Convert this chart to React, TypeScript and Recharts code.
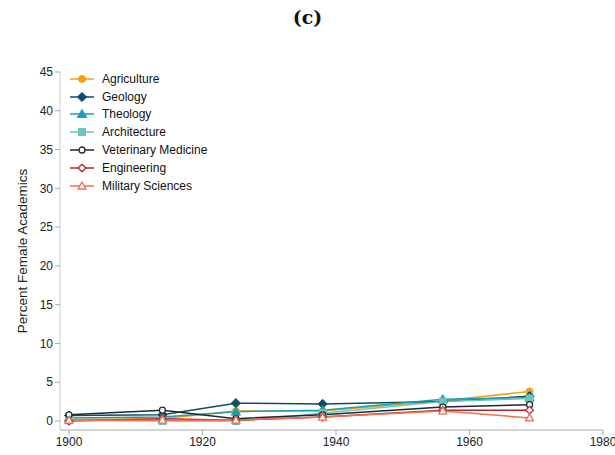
import { LineChart, Line, XAxis, YAxis } from "recharts";

const years = [1900, 1914, 1925, 1938, 1956, 1969];
const agriculture = [0.2, 0.3, 1.3, 1.3, 2.6, 3.8];
const geology = [0.7, 0.8, 2.3, 2.2, 2.5, 3.2];
const theology = [0.4, 0.5, 1.2, 1.4, 2.8, 3.0];
const architecture = [0.1, 0.0, 0.0, 1.0, 2.5, 2.9];
const veterinary = [0.8, 1.4, 0.3, 0.8, 1.8, 2.1];
const engineering = [0.0, 0.3, 0.1, 0.5, 1.4, 1.4];
const military = [0.1, 0.1, 0.1, 0.5, 1.3, 0.4];

const xTicks = [1900, 1920, 1940, 1960, 1980];
const yTicks = [0, 5, 10, 15, 20, 25, 30, 35, 40, 45];

type Shape = "circle" | "diamond" | "triangle" | "square";

const series: { key: string; name: string; color: string; shape: Shape; open: boolean; values: number[] }[] = [
  { key: "agriculture", name: "Agriculture", color: "#f2a30f", shape: "circle", open: false, values: agriculture },
  { key: "geology", name: "Geology", color: "#0f4c66", shape: "diamond", open: false, values: geology },
  { key: "theology", name: "Theology", color: "#1d9db5", shape: "triangle", open: false, values: theology },
  { key: "architecture", name: "Architecture", color: "#6cc6bd", shape: "square", open: false, values: architecture },
  { key: "veterinary", name: "Veterinary Medicine", color: "#1b2a35", shape: "circle", open: true, values: veterinary },
  { key: "engineering", name: "Engineering", color: "#b3282e", shape: "diamond", open: true, values: engineering },
  { key: "military", name: "Military Sciences", color: "#f26f4f", shape: "triangle", open: true, values: military },
];

const data = years.map((year, i) => {
  const row: Record<string, number> = { year };
  series.forEach((s) => {
    row[s.key] = s.values[i];
  });
  return row;
});

const font = "Liberation Sans, Arial, sans-serif";

function Marker({ cx, cy, shape, color, open }: { cx: number; cy: number; shape: Shape; color: string; open: boolean }) {
  const fill = open ? "#fff" : color;
  const sw = open ? 1.3 : 1;
  if (shape === "circle") {
    return <circle cx={cx} cy={cy} r={open ? 3 : 3.5} fill={fill} stroke={color} strokeWidth={sw} />;
  }
  if (shape === "diamond") {
    const d = open ? 3.8 : 4.6;
    return (
      <polygon
        points={`${cx},${cy - d} ${cx + d},${cy} ${cx},${cy + d} ${cx - d},${cy}`}
        fill={fill}
        stroke={color}
        strokeWidth={sw}
      />
    );
  }
  if (shape === "triangle") {
    const d = open ? 4 : 4.6;
    return (
      <polygon
        points={`${cx},${cy - d} ${cx + d},${cy + d * 0.75} ${cx - d},${cy + d * 0.75}`}
        fill={fill}
        stroke={color}
        strokeWidth={sw}
      />
    );
  }
  return <rect x={cx - 3.5} y={cy - 3.5} width={7} height={7} fill={fill} stroke={color} strokeWidth={sw} />;
}

function LegendBox() {
  return (
    <div style={{ position: "absolute", left: 69, top: 70, fontFamily: font, fontSize: 12, color: "#111" }}>
      {series.map((s) => (
        <div key={s.key} style={{ display: "flex", alignItems: "center", height: 17.8 }}>
          <svg width={26} height={14} style={{ marginRight: 7 }}>
            <line x1={1} y1={7} x2={25} y2={7} stroke={s.color} strokeWidth={1.5} />
            <Marker cx={13} cy={7} shape={s.shape} color={s.color} open={s.open} />
          </svg>
          <span>{s.name}</span>
        </div>
      ))}
    </div>
  );
}

const tickStyle = { fontSize: 12, fill: "#222", fontFamily: font };

export default function App() {
  return (
    <div style={{ position: "absolute", left: 0, top: 0, width: 615, height: 455, background: "#fff" }}>
      <div
        style={{
          position: "absolute",
          top: 6,
          width: 615,
          textAlign: "center",
          fontFamily: "DejaVu Serif, serif",
          fontWeight: "bold",
          fontSize: 19,
          color: "#111",
        }}
      >
        (c)
      </div>
      <LineChart width={615} height={455} data={data} margin={{ top: 72, right: 12, bottom: 0, left: 0 }}>
        <XAxis
          dataKey="year"
          type="number"
          domain={[1900, 1980]}
          ticks={xTicks}
          padding={{ left: 9, right: 0 }}
          height={25}
          tick={tickStyle}
          tickSize={5}
          tickLine={{ stroke: "#aaa" }}
          axisLine={{ stroke: "#aaa" }}
        />
        <YAxis
          type="number"
          domain={[0, 45]}
          ticks={yTicks}
          width={60}
          padding={{ top: 0, bottom: 9 }}
          tick={tickStyle}
          tickSize={5}
          tickLine={{ stroke: "#aaa" }}
          axisLine={{ stroke: "#ccc" }}
          label={{
            value: "Percent Female Academics",
            angle: -90,
            position: "insideLeft",
            offset: 22,
            style: { textAnchor: "middle", fontSize: 13.5, fill: "#222", fontFamily: font },
          }}
        />
        {series.map((s) => (
          <Line
            key={s.key}
            dataKey={s.key}
            name={s.name}
            type="linear"
            stroke={s.color}
            strokeWidth={1.5}
            isAnimationActive={false}
            dot={(p: any) => (
              <Marker key={`${s.key}-${p.index}`} cx={p.cx} cy={p.cy} shape={s.shape} color={s.color} open={s.open} />
            )}
            activeDot={false}
          />
        ))}
      </LineChart>
      <LegendBox />
    </div>
  );
}
